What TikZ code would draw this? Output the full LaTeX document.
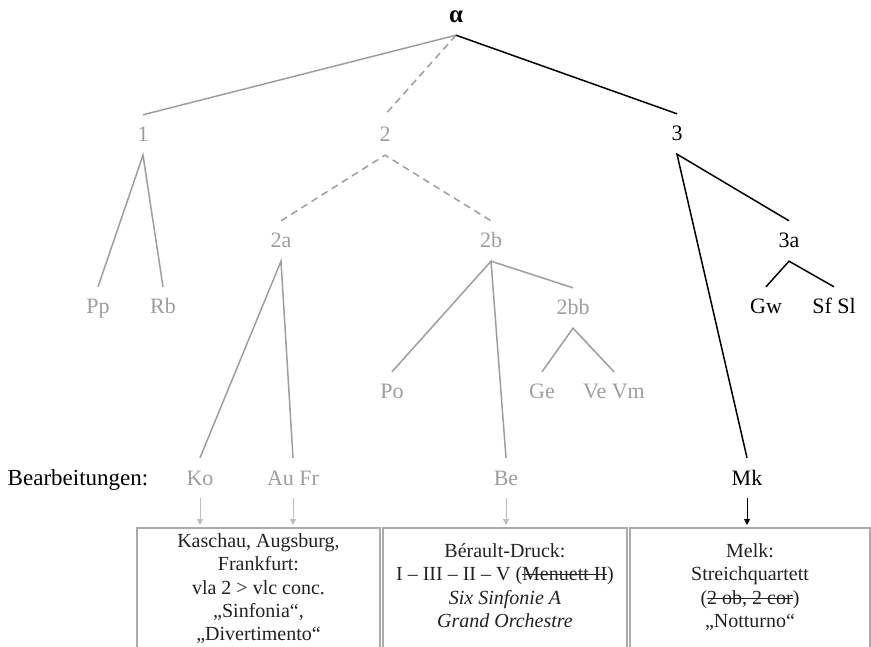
\documentclass[tikz,border=0pt]{standalone}
\usepackage{fontspec}
\setmainfont{Liberation Serif}
\usetikzlibrary{arrows.meta,calc}
\definecolor{lg}{HTML}{9E9E9E}
\definecolor{ag}{HTML}{BDBDBD}
\definecolor{bxc}{HTML}{ABABAB}
\definecolor{tx}{HTML}{222222}
\newcommand\strk[1]{\setbox0\hbox{#1}\rlap{\rule[0.6ex]{\wd0}{0.9pt}}\box0}
\begin{document}
\begin{tikzpicture}[x=1pt,y=-1pt,
  lab/.style={font=\fontsize{22}{26}\selectfont, inner xsep=0pt, inner ysep=13pt, text height=14pt, text depth=0pt},
  gl/.style={lab,text=lg},
  bl/.style={lab,text=black},
  gline/.style={draw=lg,line width=1.5pt},
  bline/.style={draw=black,line width=1.5pt},
  dline/.style={gline,dash pattern=on 7pt off 5pt},
  boxt/.style={font=\fontsize{20}{24}\selectfont, inner sep=0pt, anchor=base, text=tx},
  wbox/.style={draw=bxc, line width=1.5pt, anchor=north, minimum height=160pt, inner sep=0pt},
  garr/.style={draw=ag, line width=0.9pt, -{Triangle[length=6pt,width=6pt]}, shorten >=2pt},
  barr/.style={draw=black, line width=0.9pt, -{Triangle[length=6pt,width=6pt]}, shorten >=2pt}
]
\useasboundingbox (0,0) rectangle (871,647);
\fill[white] (0,0) rectangle (871,647);

% tree labels
\node[bl,font=\fontsize{25}{26}\selectfont\bfseries, inner ysep=12pt, text height=10pt] (alpha) at (456,18) {α};
\node[gl] (n1) at (143,135) {1};
\node[gl] (n2) at (385,135) {2};
\node[bl] (n3) at (677,134) {3};
\node[gl] (n2a) at (281,241) {2a};
\node[gl] (n2b) at (491,241) {2b};
\node[bl] (n3a) at (789,241) {3a};
\node[gl] (n2bb) at (573,308) {2bb};
\node[gl] (pp) at (98,307) {Pp};
\node[gl] (rb) at (163,307) {Rb};
\node[bl] (gw) at (766,307) {Gw};
\node[bl] (sfsl) at (834,307) {Sf Sl};
\node[gl] (po) at (392,392) {Po};
\node[gl] (ge) at (542,392) {Ge};
\node[gl] (vevm) at (614,392) {Ve Vm};
\node[gl] (ko) at (200,478) {Ko};
\node[gl] (aufr) at (293,478) {Au Fr};
\node[gl] (be) at (506,478) {Be};
\node[bl] (mk) at (747,478) {Mk};
\node[bl,font=\fontsize{23}{26}\selectfont] (bearb) at (78,478) {Bearbeitungen:};

% tree edges
\draw[gline] (alpha.south) -- (n1.north);
\draw[dline] (alpha.south) -- (n2.north);
\draw[bline] (alpha.south) -- (n3.north);
\draw[gline] (pp.north) -- (n1.south) -- (rb.north);
\draw[dline] (n2a.north) -- (n2.south) -- (n2b.north);
\draw[gline] (ko.north) -- (n2a.south) -- (aufr.north);
\draw[gline] (po.north) -- (n2b.south) -- (be.north);
\draw[gline] (n2b.south) -- (n2bb.north);
\draw[gline] (ge.north) -- (n2bb.south) -- (vevm.north);
\draw[bline] (mk.north) -- (n3.south) -- (n3a.north);
\draw[bline] (gw.north) -- (n3a.south) -- (sfsl.north);

% boxes
\node[wbox, minimum width=243pt] (box1) at (258.5,527) {};
\node[wbox, minimum width=244pt] (box2) at (505,527) {};
\node[wbox, minimum width=240pt] (box3) at (750,527) {};

% arrows
\draw[garr] (ko.south) -- (ko.south |- box1.north);
\draw[garr] (aufr.south) -- (aufr.south |- box1.north);
\draw[garr] (be.south) -- (be.south |- box2.north);
\draw[barr] (mk.south) -- (mk.south |- box3.north);

% box 1 text
\node[boxt] (b1a) at (258.5,547) {Kaschau, Augsburg,};
\node[boxt] (b1b) at (258.5,570.5) {Frankfurt:};
\node[boxt] (b1c) at (258.5,594) {vla 2 > vlc conc.};
\node[boxt] (b1d) at (258.5,617) {„Sinfonia“,};
\node[boxt] (b1e) at (258.5,640) {„Divertimento“};

% box 2 text
\node[boxt] (b2a) at (505,557) {Bérault-Druck:};
\node[boxt] (b2b) at (505,580.5) {I – III – II – V (\strk{Menuett II})};
\node[boxt] (b2c) at (505,604) {\itshape Six Sinfonie A};
\node[boxt] (b2d) at (505,627) {\itshape Grand Orchestre};

% box 3 text
\node[boxt] (b3a) at (750,557) {Melk:};
\node[boxt] (b3b) at (750,580.5) {Streichquartett};
\node[boxt] (b3c) at (750,604) {(\strk{2 ob, 2 cor})};
\node[boxt] (b3d) at (750,627) {„Notturno“};
\end{tikzpicture}
\end{document}
